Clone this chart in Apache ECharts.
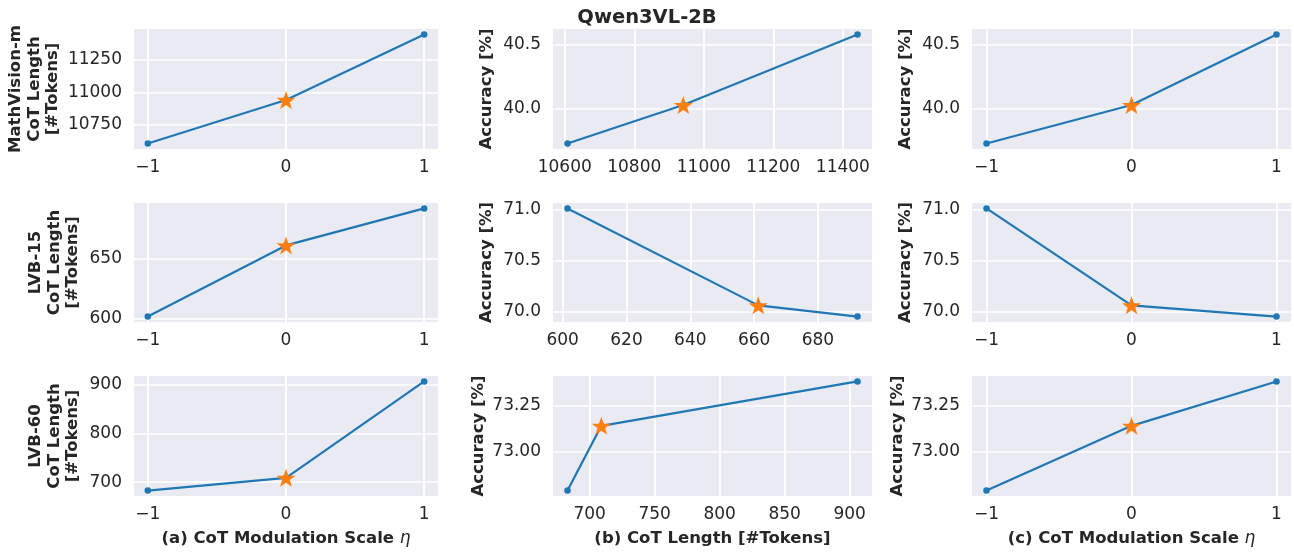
<!DOCTYPE html>
<html>
<head>
<meta charset="utf-8">
<script src="https://cdn.jsdelivr.net/npm/echarts@6/dist/echarts.min.js"></script>
<style>
  html, body { margin: 0; padding: 0; background: #fff; }
  #chart { width: 1294px; height: 554px; }
</style>
</head>
<body>
<div id="chart"></div>
<script>
// data
const etaValues = [-1, 0, 1]
const datasetNames = ['MathVision-m', 'LVB-15', 'LVB-60']
const cotLength = [
  [10608, 10941, 11442],
  [601.5, 661.3, 692.4],
  [683, 709, 906]
]
const accuracy = [
  [39.73, 40.03, 40.58],
  [71.01, 70.06, 69.95],
  [72.79, 73.14, 73.38]
]

// tick labels
const etaTicks = [-1, 0, 1]
const lengthTicks = [[10750, 11000, 11250], [600, 650], [700, 800, 900]]
const lengthXTicks = [[10600, 10800, 11000, 11200, 11400], [600, 620, 640, 660, 680], [700, 750, 800, 850, 900]]
const accTicks = [[40.0, 40.5], [70.0, 70.5, 71.0], [73.00, 73.25]]
const accDecimals = [1, 1, 2]
const xNames = ['(a) CoT Modulation Scale {i|η}', '(b) CoT Length [#Tokens]', '(c) CoT Modulation Scale {i|η}']

// layout
const colLeft = [134, 553, 972]
const colWidth = [304, 319, 319]
const rowTop = [29, 203, 376]
const rowHeight = [120, 119, 120]

const FONT = 'DejaVu Sans'
const TXT = '#262626'
const BLUE = '#1f77b4'
const ORANGE = '#ff7f0e'
const STAR = 'path://M50,0 L61.8,35.1 L97.6,34.5 L69.1,56.7 L79.4,90.5 L50,70 L20.6,90.5 L30.9,56.7 L2.4,34.5 L38.2,35.1 Z'

// matplotlib style 5% margins
const pad = (arr) => {
  const lo = Math.min(...arr), hi = Math.max(...arr)
  const d = (hi - lo) * 0.05
  return [lo - d, hi + d]
}
const fmt = (dec) => (v) => (dec == null ? String(v) : v.toFixed(dec)).replace('-', '\u2212')

const grids = [], xAxes = [], yAxes = [], series = []

function axisBase(ticks, ext, dec) {
  return {
    type: 'value',
    min: ext[0],
    max: ext[1],
    axisLine: { show: false },
    axisTick: { show: false, customValues: ticks },
    axisLabel: { customValues: ticks, formatter: fmt(dec), color: TXT, fontSize: 17, fontFamily: FONT },
    splitLine: { show: true, lineStyle: { color: '#ffffff', width: 1.7 } }
  }
}

for (let r = 0; r < 3; r++) {
  for (let c = 0; c < 3; c++) {
    const gi = grids.length
    grids.push({
      left: colLeft[c], top: rowTop[r], width: colWidth[c], height: rowHeight[r],
      show: true, backgroundColor: '#eaeaf2', borderWidth: 0
    })

    let xs, ys, xt, yt, ydec
    if (c === 0) { xs = etaValues; ys = cotLength[r]; xt = etaTicks; yt = lengthTicks[r]; ydec = null }
    else if (c === 1) { xs = cotLength[r]; ys = accuracy[r]; xt = lengthXTicks[r]; yt = accTicks[r]; ydec = accDecimals[r] }
    else { xs = etaValues; ys = accuracy[r]; xt = etaTicks; yt = accTicks[r]; ydec = accDecimals[r] }

    const xExt = c === 1 ? pad(xs) : [-1.1, 1.1]
    const xa = Object.assign(axisBase(xt, xExt, null), { gridIndex: gi })
    xa.axisLabel.margin = 10
    if (r === 2) {
      xa.name = xNames[c]
      xa.nameLocation = 'middle'
      xa.nameGap = 34
      xa.nameTextStyle = {
        fontFamily: FONT, fontWeight: 'bold', fontSize: 16.5, color: TXT,
        rich: { i: { fontFamily: FONT, fontStyle: 'italic', fontWeight: 'normal', fontSize: 17, color: TXT } }
      }
    }
    xAxes.push(xa)

    const ya = Object.assign(axisBase(yt, pad(ys), ydec), { gridIndex: gi })
    ya.axisLabel.margin = 12
    ya.nameLocation = 'middle'
    ya.nameRotate = 90
    ya.nameTextStyle = { fontFamily: FONT, fontWeight: 'bold', fontSize: 16.5, color: TXT, lineHeight: 18.5, align: 'center' }
    if (c === 0) {
      ya.name = datasetNames[r] + '\nCoT Length\n[#Tokens]'
      ya.nameGap = r === 0 ? 72 : 52
    } else {
      ya.name = 'Accuracy [%]'
      ya.nameGap = 57
    }
    yAxes.push(ya)

    const pts = xs.map((x, i) => [x, ys[i]])
    series.push({
      type: 'line', xAxisIndex: gi, yAxisIndex: gi, data: pts,
      symbol: 'circle', symbolSize: 6.5, showSymbol: true,
      lineStyle: { color: BLUE, width: 2.2 }, itemStyle: { color: BLUE },
      animation: false, silent: true, z: 3
    })
    // baseline (eta = 0) marked with a star
    series.push({
      type: 'scatter', xAxisIndex: gi, yAxisIndex: gi, data: [pts[1]],
      symbol: STAR, symbolSize: [19, 18], itemStyle: { color: ORANGE, opacity: 1 },
      animation: false, silent: true, z: 5
    })
  }
}

const chart = echarts.init(document.getElementById('chart'), null, { renderer: 'canvas' })
chart.setOption({
  backgroundColor: '#ffffff',
  animation: false,
  title: {
    text: 'Qwen3VL-2B', left: 'center', top: 3,
    textStyle: { fontFamily: FONT, fontWeight: 'bold', fontSize: 19.5, color: TXT }
  },
  grid: grids,
  xAxis: xAxes,
  yAxis: yAxes,
  series: series
})
</script>
</body>
</html>
